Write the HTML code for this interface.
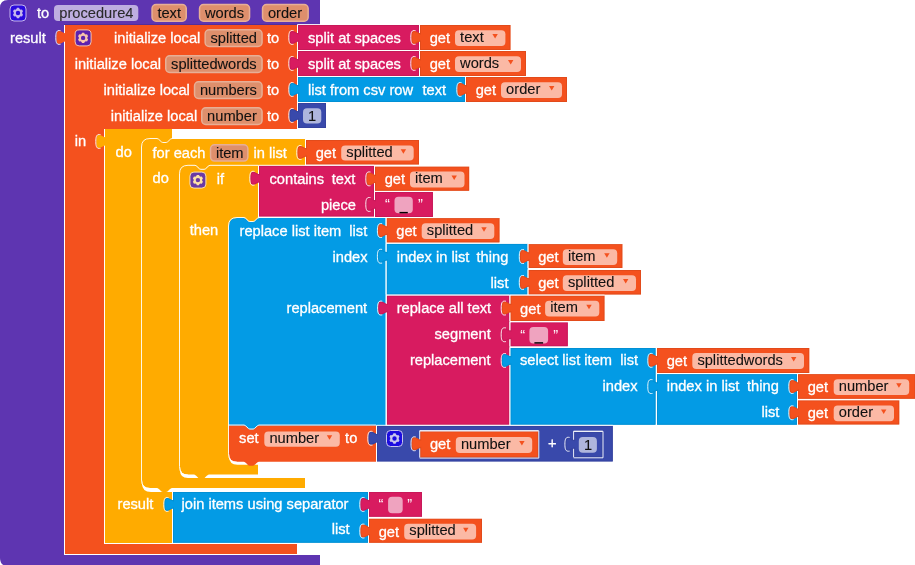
<!DOCTYPE html>
<html><head><meta charset="utf-8"><style>
html,body{margin:0;padding:0;background:#fff;overflow:hidden}
svg{display:block;will-change:transform}
text{font-family:"Liberation Sans",sans-serif;white-space:pre}
</style></head><body>
<svg width="915" height="565" viewBox="0 0 915 565">
<path d="M8,0 L320,0 L320,25 L64,25 L64,555 L320,555 L320,566 L8,566 Q0,566 0,558 L0,8 Q0,0 8,0 Z" fill="#5e35b1"/>
<path d="M64,24.5 L320,24.5" stroke="#000" stroke-opacity="0.12" stroke-width="1"/>
<rect x="10.0" y="5.0" width="16" height="16" rx="4" fill="#2a0ade" stroke="#c4b5ec" stroke-width="1"/>
<path d="M19.54,8.99 L19.10,7.82 L16.90,7.82 L16.46,8.99 L15.29,9.66 L14.06,9.45 L12.96,11.36 L13.75,12.33 L13.75,13.67 L12.96,14.64 L14.06,16.55 L15.29,16.34 L16.46,17.01 L16.90,18.18 L19.10,18.18 L19.54,17.01 L20.71,16.34 L21.94,16.55 L23.04,14.64 L22.25,13.67 L22.25,12.33 L23.04,11.36 L21.94,9.45 L20.71,9.66Z M20.2,13.0 A2.2,2.2 0 1,0 15.8,13.0 A2.2,2.2 0 1,0 20.2,13.0 Z" fill="#c4b5ec" fill-rule="evenodd"/>
<text x="36.90" y="17.90" fill="#fff" font-size="14.67" stroke="#fff" stroke-width="0.3">to</text>
<rect x="54" y="5" width="84.3" height="16" rx="4" fill="#fff" fill-opacity="0.6"/>
<text x="59.30" y="18.00" fill="#2a2a2a" font-size="14.67" stroke="#2a2a2a" stroke-width="0.1">procedure4</text>
<rect x="152.05" y="4.55" width="34.20" height="16.60" rx="4" fill="#de8f6c" stroke="#e7af96" stroke-width="1.5"/>
<text x="157.40" y="18.00" fill="#111" font-size="14.67" stroke="#111" stroke-width="0.1">text</text>
<rect x="199.55" y="4.55" width="50.00" height="16.60" rx="4" fill="#de8f6c" stroke="#e7af96" stroke-width="1.5"/>
<text x="204.90" y="18.00" fill="#111" font-size="14.67" stroke="#111" stroke-width="0.1">words</text>
<rect x="262.55" y="4.55" width="45.60" height="16.60" rx="4" fill="#de8f6c" stroke="#e7af96" stroke-width="1.5"/>
<text x="267.90" y="18.00" fill="#111" font-size="14.67" stroke="#111" stroke-width="0.1">order</text>
<text x="10.00" y="42.90" fill="#fff" font-size="14.67" stroke="#fff" stroke-width="0.3">result</text>
<path d="M65,25 L297,25 L297,129 L104,129 L104,544 L297,544 L297,554 L65,554 L65,41.6 C63,42 61.5,43.9 59,43.9 C56.8,43.9 56.3,41.5 56.3,37.45 C56.3,33.4 56.8,31 59,31 C61.5,31 63,32.9 65,33.3 Z" fill="#f4511e"/>
<path d="M64.5,554 L64.5,42 M60.5,44.3 C59.7,44.4 59.3,44.4 59,44.4 C56.4,44.4 55.8,41.7 55.8,37.45 C55.8,33.2 56.4,30.5 59,30.5 C59.3,30.5 59.7,30.5 60.5,30.6 M64.5,33 L64.5,25" fill="none" stroke="#fff" stroke-opacity="0.9" stroke-width="1"/>
<rect x="75.1" y="29.9" width="16" height="16" rx="4" fill="#5c22ae" stroke="#f9c4aa" stroke-width="1"/>
<path d="M84.64,33.89 L84.20,32.72 L82.00,32.72 L81.56,33.89 L80.39,34.56 L79.16,34.35 L78.06,36.26 L78.85,37.23 L78.85,38.57 L78.06,39.54 L79.16,41.45 L80.39,41.24 L81.56,41.91 L82.00,43.08 L84.20,43.08 L84.64,41.91 L85.81,41.24 L87.04,41.45 L88.14,39.54 L87.35,38.57 L87.35,37.23 L88.14,36.26 L87.04,34.35 L85.81,34.56Z M85.3,37.9 A2.2,2.2 0 1,0 80.89999999999999,37.9 A2.2,2.2 0 1,0 85.3,37.9 Z" fill="#f9c4aa" fill-rule="evenodd"/>
<text x="114.00" y="42.50" fill="#fff" font-size="14.67" stroke="#fff" stroke-width="0.3">initialize local</text>
<rect x="205.15" y="29.85" width="56.90" height="16.60" rx="4" fill="#de8f6c" stroke="#e7af96" stroke-width="1.5"/>
<text x="210.50" y="43.30" fill="#111" font-size="14.67" stroke="#111" stroke-width="0.1">splitted</text>
<text x="267.00" y="42.50" fill="#fff" font-size="14.67" stroke="#fff" stroke-width="0.3">to</text>
<text x="74.70" y="68.50" fill="#fff" font-size="14.67" stroke="#fff" stroke-width="0.3">initialize local</text>
<rect x="165.75" y="55.85" width="96.30" height="16.60" rx="4" fill="#de8f6c" stroke="#e7af96" stroke-width="1.5"/>
<text x="171.10" y="69.30" fill="#111" font-size="14.67" stroke="#111" stroke-width="0.1">splittedwords</text>
<text x="267.00" y="68.50" fill="#fff" font-size="14.67" stroke="#fff" stroke-width="0.3">to</text>
<text x="103.50" y="94.50" fill="#fff" font-size="14.67" stroke="#fff" stroke-width="0.3">initialize local</text>
<rect x="194.55" y="81.85" width="67.50" height="16.60" rx="4" fill="#de8f6c" stroke="#e7af96" stroke-width="1.5"/>
<text x="199.90" y="95.30" fill="#111" font-size="14.67" stroke="#111" stroke-width="0.1">numbers</text>
<text x="267.00" y="94.50" fill="#fff" font-size="14.67" stroke="#fff" stroke-width="0.3">to</text>
<text x="110.80" y="120.50" fill="#fff" font-size="14.67" stroke="#fff" stroke-width="0.3">initialize local</text>
<rect x="201.75" y="107.85" width="60.30" height="16.60" rx="4" fill="#de8f6c" stroke="#e7af96" stroke-width="1.5"/>
<text x="207.10" y="121.30" fill="#111" font-size="14.67" stroke="#111" stroke-width="0.1">number</text>
<text x="267.00" y="120.50" fill="#fff" font-size="14.67" stroke="#fff" stroke-width="0.3">to</text>
<text x="74.70" y="146.30" fill="#fff" font-size="14.67" stroke="#fff" stroke-width="0.3">in</text>
<clipPath id="c1"><path d="M298,25 L419,25 L419,50 L298,50 L298,41.6 C296,42 294.5,43.9 292,43.9 C289.8,43.9 289.3,41.5 289.3,37.45 C289.3,33.4 289.8,31 292,31 C294.5,31 296,32.9 298,33.3 Z"/></clipPath>
<path d="M298,25 L419,25 L419,50 L298,50 L298,41.6 C296,42 294.5,43.9 292,43.9 C289.8,43.9 289.3,41.5 289.3,37.45 C289.3,33.4 289.8,31 292,31 C294.5,31 296,32.9 298,33.3 Z" fill="#d81b60" stroke="#c81959" stroke-width="2" clip-path="url(#c1)"/>
<path d="M297.5,50 L297.5,42 M293.5,44.3 C292.7,44.4 292.3,44.4 292,44.4 C289.4,44.4 288.8,41.7 288.8,37.45 C288.8,33.2 289.4,30.5 292,30.5 C292.3,30.5 292.7,30.5 293.5,30.6 M297.5,33 L297.5,24.5 L419,24.5" fill="none" stroke="#fff" stroke-opacity="0.9" stroke-width="1"/>
<text x="308.00" y="43.00" fill="#fff" font-size="14.67" stroke="#fff" stroke-width="0.3">split at spaces</text>
<clipPath id="c2"><path d="M420,25 L510.5,25 L510.5,50 L420,50 L420,41.6 C418,42 416.5,43.9 414,43.9 C411.8,43.9 411.3,41.5 411.3,37.45 C411.3,33.4 411.8,31 414,31 C416.5,31 418,32.9 420,33.3 Z"/></clipPath>
<path d="M420,25 L510.5,25 L510.5,50 L420,50 L420,41.6 C418,42 416.5,43.9 414,43.9 C411.8,43.9 411.3,41.5 411.3,37.45 C411.3,33.4 411.8,31 414,31 C416.5,31 418,32.9 420,33.3 Z" fill="#f4511e" stroke="#e24b1b" stroke-width="2" clip-path="url(#c2)"/>
<path d="M419.5,50 L419.5,42 M415.5,44.3 C414.7,44.4 414.3,44.4 414,44.4 C411.4,44.4 410.8,41.7 410.8,37.45 C410.8,33.2 411.4,30.5 414,30.5 C414.3,30.5 414.7,30.5 415.5,30.6 M419.5,33 L419.5,24.5 L510.5,24.5" fill="none" stroke="#fff" stroke-opacity="0.9" stroke-width="1"/>
<text x="429.70" y="42.90" fill="#fff" font-size="14.67" stroke="#fff" stroke-width="0.3">get</text>
<rect x="455" y="30.2" width="50.40" height="15.80" rx="4" fill="#fff" fill-opacity="0.6"/>
<text x="460.10" y="41.60" fill="#111" font-size="14.67" stroke="#111" stroke-width="0.1">text</text>
<path d="M492.40,34.10 L497.80,34.10 L495.10,38.60 Z" fill="#f4511e"/>
<clipPath id="c3"><path d="M298,51 L419,51 L419,76 L298,76 L298,67.6 C296,68 294.5,69.9 292,69.9 C289.8,69.9 289.3,67.5 289.3,63.45 C289.3,59.4 289.8,57 292,57 C294.5,57 296,58.9 298,59.3 Z"/></clipPath>
<path d="M298,51 L419,51 L419,76 L298,76 L298,67.6 C296,68 294.5,69.9 292,69.9 C289.8,69.9 289.3,67.5 289.3,63.45 C289.3,59.4 289.8,57 292,57 C294.5,57 296,58.9 298,59.3 Z" fill="#d81b60" stroke="#c81959" stroke-width="2" clip-path="url(#c3)"/>
<path d="M297.5,76 L297.5,68 M293.5,70.3 C292.7,70.4 292.3,70.4 292,70.4 C289.4,70.4 288.8,67.7 288.8,63.45 C288.8,59.2 289.4,56.5 292,56.5 C292.3,56.5 292.7,56.5 293.5,56.6 M297.5,59 L297.5,50.5 L419,50.5" fill="none" stroke="#fff" stroke-opacity="0.9" stroke-width="1"/>
<text x="308.00" y="69.00" fill="#fff" font-size="14.67" stroke="#fff" stroke-width="0.3">split at spaces</text>
<clipPath id="c4"><path d="M420,51 L526,51 L526,76 L420,76 L420,67.6 C418,68 416.5,69.9 414,69.9 C411.8,69.9 411.3,67.5 411.3,63.45 C411.3,59.4 411.8,57 414,57 C416.5,57 418,58.9 420,59.3 Z"/></clipPath>
<path d="M420,51 L526,51 L526,76 L420,76 L420,67.6 C418,68 416.5,69.9 414,69.9 C411.8,69.9 411.3,67.5 411.3,63.45 C411.3,59.4 411.8,57 414,57 C416.5,57 418,58.9 420,59.3 Z" fill="#f4511e" stroke="#e24b1b" stroke-width="2" clip-path="url(#c4)"/>
<path d="M419.5,76 L419.5,68 M415.5,70.3 C414.7,70.4 414.3,70.4 414,70.4 C411.4,70.4 410.8,67.7 410.8,63.45 C410.8,59.2 411.4,56.5 414,56.5 C414.3,56.5 414.7,56.5 415.5,56.6 M419.5,59 L419.5,50.5 L526,50.5" fill="none" stroke="#fff" stroke-opacity="0.9" stroke-width="1"/>
<text x="429.70" y="68.90" fill="#fff" font-size="14.67" stroke="#fff" stroke-width="0.3">get</text>
<rect x="455" y="56.2" width="66.00" height="15.80" rx="4" fill="#fff" fill-opacity="0.6"/>
<text x="460.10" y="67.60" fill="#111" font-size="14.67" stroke="#111" stroke-width="0.1">words</text>
<path d="M508.00,60.10 L513.40,60.10 L510.70,64.60 Z" fill="#f4511e"/>
<clipPath id="c5"><path d="M298,77 L465,77 L465,102 L298,102 L298,93.6 C296,94 294.5,95.9 292,95.9 C289.8,95.9 289.3,93.5 289.3,89.45 C289.3,85.4 289.8,83 292,83 C294.5,83 296,84.9 298,85.3 Z"/></clipPath>
<path d="M298,77 L465,77 L465,102 L298,102 L298,93.6 C296,94 294.5,95.9 292,95.9 C289.8,95.9 289.3,93.5 289.3,89.45 C289.3,85.4 289.8,83 292,83 C294.5,83 296,84.9 298,85.3 Z" fill="#039be5" stroke="#0290d4" stroke-width="2" clip-path="url(#c5)"/>
<path d="M297.5,102 L297.5,94 M293.5,96.3 C292.7,96.4 292.3,96.4 292,96.4 C289.4,96.4 288.8,93.7 288.8,89.45 C288.8,85.2 289.4,82.5 292,82.5 C292.3,82.5 292.7,82.5 293.5,82.6 M297.5,85 L297.5,76.5 L465,76.5" fill="none" stroke="#fff" stroke-opacity="0.9" stroke-width="1"/>
<text x="308.00" y="95.00" fill="#fff" font-size="14.67" stroke="#fff" stroke-width="0.3">list from csv row</text>
<text x="422.50" y="95.00" fill="#fff" font-size="14.67" stroke="#fff" stroke-width="0.3">text</text>
<clipPath id="c6"><path d="M466,77 L567,77 L567,102 L466,102 L466,93.6 C464,94 462.5,95.9 460,95.9 C457.8,95.9 457.3,93.5 457.3,89.45 C457.3,85.4 457.8,83 460,83 C462.5,83 464,84.9 466,85.3 Z"/></clipPath>
<path d="M466,77 L567,77 L567,102 L466,102 L466,93.6 C464,94 462.5,95.9 460,95.9 C457.8,95.9 457.3,93.5 457.3,89.45 C457.3,85.4 457.8,83 460,83 C462.5,83 464,84.9 466,85.3 Z" fill="#f4511e" stroke="#e24b1b" stroke-width="2" clip-path="url(#c6)"/>
<path d="M465.5,102 L465.5,94 M461.5,96.3 C460.7,96.4 460.3,96.4 460,96.4 C457.4,96.4 456.8,93.7 456.8,89.45 C456.8,85.2 457.4,82.5 460,82.5 C460.3,82.5 460.7,82.5 461.5,82.6 M465.5,85 L465.5,76.5 L567,76.5" fill="none" stroke="#fff" stroke-opacity="0.9" stroke-width="1"/>
<text x="475.70" y="94.90" fill="#fff" font-size="14.67" stroke="#fff" stroke-width="0.3">get</text>
<rect x="501" y="82.2" width="61.00" height="15.80" rx="4" fill="#fff" fill-opacity="0.6"/>
<text x="506.10" y="93.60" fill="#111" font-size="14.67" stroke="#111" stroke-width="0.1">order</text>
<path d="M549.00,86.10 L554.40,86.10 L551.70,90.60 Z" fill="#f4511e"/>
<clipPath id="c7"><path d="M298,103 L326,103 L326,128 L298,128 L298,119.6 C296,120 294.5,121.9 292,121.9 C289.8,121.9 289.3,119.5 289.3,115.45 C289.3,111.4 289.8,109 292,109 C294.5,109 296,110.9 298,111.3 Z"/></clipPath>
<path d="M298,103 L326,103 L326,128 L298,128 L298,119.6 C296,120 294.5,121.9 292,121.9 C289.8,121.9 289.3,119.5 289.3,115.45 C289.3,111.4 289.8,109 292,109 C294.5,109 296,110.9 298,111.3 Z" fill="#3949ab" stroke="#35439f" stroke-width="2" clip-path="url(#c7)"/>
<path d="M297.5,128 L297.5,120 M293.5,122.3 C292.7,122.4 292.3,122.4 292,122.4 C289.4,122.4 288.8,119.7 288.8,115.45 C288.8,111.2 289.4,108.5 292,108.5 C292.3,108.5 292.7,108.5 293.5,108.6 M297.5,111 L297.5,102.5 L326,102.5" fill="none" stroke="#fff" stroke-opacity="0.9" stroke-width="1"/>
<rect x="303" y="108.2" width="18.3" height="15.3" rx="4" fill="#fff" fill-opacity="0.6"/>
<text x="308.10" y="121.10" fill="#111" font-size="14.67" stroke="#111" stroke-width="0.1">1</text>
<path d="M105,129 L172,129 L172,139 L172,139 C170,139 168,143 166.2,143 L162.8,143 C161,143 159,139 157,139 L142,139 L142,483 Q142,492 151,492 L172,492 L172,543 L105,543 L105,145.6 C103,146 101.5,147.9 99,147.9 C96.8,147.9 96.3,145.5 96.3,141.45 C96.3,137.4 96.8,135 99,135 C101.5,135 103,136.9 105,137.3 Z" fill="#ffab00"/>
<path d="M104.5,543 L104.5,146 M100.5,148.3 C99.7,148.4 99.3,148.4 99,148.4 C96.4,148.4 95.8,145.7 95.8,141.45 C95.8,137.2 96.4,134.5 99,134.5 C99.3,134.5 99.7,134.5 100.5,134.6 M104.5,137 L104.5,129" fill="none" stroke="#fff" stroke-opacity="0.9" stroke-width="1"/>
<text x="115.50" y="156.80" fill="#fff" font-size="14.67" stroke="#fff" stroke-width="0.3">do</text>
<text x="117.50" y="509.10" fill="#fff" font-size="14.67" stroke="#fff" stroke-width="0.3">result</text>
<rect x="141" y="138" width="10" height="10" fill="#ffab00"/>
<path d="M150,139 L305,139 L305,165.8 L210,165.8 L210,165.8 C208,165.8 206,169.8 204.2,169.8 L200.8,169.8 C199,169.8 197,165.8 195,165.8 L180,165.8 L180,470 Q180,478 188,478 L305,478 L305,488 L172,488 C170,488 168,492 166.2,492 L162.8,492 C161,492 159,488 157,488 L150,488 Q142,488 142,480 L142,147 Q142,139 150,139 Z" fill="#ffab00"/>
<path d="M150,488.5 Q141.5,488.5 141.5,480 L141.5,147 Q141.5,138.5 150,138.5 L157,138.5 C159,138.5 161,142.5 162.8,142.5 L166.2,142.5 C168,142.5 170,138.5 172,138.5 L305,138.5" fill="none" stroke="#fff" stroke-opacity="0.9" stroke-width="1"/>
<text x="152.50" y="157.80" fill="#fff" font-size="14.67" stroke="#fff" stroke-width="0.3">for each</text>
<rect x="210.55" y="144.75" width="37.30" height="16.30" rx="4" fill="#de8f6c" stroke="#e7af96" stroke-width="1.5"/>
<text x="215.90" y="158.20" fill="#111" font-size="14.67" stroke="#111" stroke-width="0.1">item</text>
<text x="253.50" y="157.80" fill="#fff" font-size="14.67" stroke="#fff" stroke-width="0.3">in list</text>
<text x="152.50" y="182.70" fill="#fff" font-size="14.67" stroke="#fff" stroke-width="0.3">do</text>
<clipPath id="c8"><path d="M306,140 L419,140 L419,164.4 L306,164.4 L306,156.6 C304,157 302.5,158.9 300,158.9 C297.8,158.9 297.3,156.5 297.3,152.45 C297.3,148.4 297.8,146 300,146 C302.5,146 304,147.9 306,148.3 Z"/></clipPath>
<path d="M306,140 L419,140 L419,164.4 L306,164.4 L306,156.6 C304,157 302.5,158.9 300,158.9 C297.8,158.9 297.3,156.5 297.3,152.45 C297.3,148.4 297.8,146 300,146 C302.5,146 304,147.9 306,148.3 Z" fill="#f4511e" stroke="#e24b1b" stroke-width="2" clip-path="url(#c8)"/>
<path d="M305.5,164.4 L305.5,157 M301.5,159.3 C300.7,159.4 300.3,159.4 300,159.4 C297.4,159.4 296.8,156.7 296.8,152.45 C296.8,148.2 297.4,145.5 300,145.5 C300.3,145.5 300.7,145.5 301.5,145.6 M305.5,148 L305.5,139.5 L419,139.5" fill="none" stroke="#fff" stroke-opacity="0.9" stroke-width="1"/>
<text x="315.70" y="157.90" fill="#fff" font-size="14.67" stroke="#fff" stroke-width="0.3">get</text>
<rect x="341.2" y="145.4" width="72.50" height="15.20" rx="4" fill="#fff" fill-opacity="0.6"/>
<text x="346.30" y="156.80" fill="#111" font-size="14.67" stroke="#111" stroke-width="0.1">splitted</text>
<path d="M400.70,149.30 L406.10,149.30 L403.40,153.80 Z" fill="#f4511e"/>
<rect x="179" y="165" width="10" height="10" fill="#ffab00"/>
<path d="M188,165.8 L195,165.8 C197,165.8 199,169.8 200.8,169.8 L204.2,169.8 C206,169.8 208,165.8 210,165.8 L258,165.8 L258,218 L259,218 L259,218 C257,218 255,222 253.2,222 L249.8,222 C248,222 246,218 244,218 L229,218 L229,456 Q229,464.7 237.5,464.7 L258,464.7 L258,474.6 L209,474.6 C207,474.6 205,478.6 203.2,478.6 L199.8,478.6 C198,478.6 196,474.6 194,474.6 L188,474.6 Q180,474.6 180,466.6 L180,173.8 Q180,165.8 188,165.8 Z" fill="#ffab00"/>
<path d="M188,475.1 Q179.5,475.1 179.5,466.6 L179.5,173.8 Q179.5,165.3 188,165.3 L195,165.3 C197,165.3 199,169.3 200.8,169.3 L204.2,169.3 C206,169.3 208,165.3 210,165.3 L258,165.3" fill="none" stroke="#fff" stroke-opacity="0.9" stroke-width="1"/>
<rect x="189.9" y="172.1" width="16" height="16" rx="4" fill="#6a3aa6" stroke="#ffe2a6" stroke-width="1"/>
<path d="M199.44,176.09 L199.00,174.92 L196.80,174.92 L196.36,176.09 L195.19,176.76 L193.96,176.55 L192.86,178.46 L193.65,179.43 L193.65,180.77 L192.86,181.74 L193.96,183.65 L195.19,183.44 L196.36,184.11 L196.80,185.28 L199.00,185.28 L199.44,184.11 L200.61,183.44 L201.84,183.65 L202.94,181.74 L202.15,180.77 L202.15,179.43 L202.94,178.46 L201.84,176.55 L200.61,176.76Z M200.1,180.1 A2.2,2.2 0 1,0 195.70000000000002,180.1 A2.2,2.2 0 1,0 200.1,180.1 Z" fill="#ffe2a6" fill-rule="evenodd"/>
<text x="216.80" y="184.00" fill="#fff" font-size="14.67" stroke="#fff" stroke-width="0.3">if</text>
<text x="189.70" y="235.30" fill="#fff" font-size="14.67" stroke="#fff" stroke-width="0.3">then</text>
<clipPath id="c9"><path d="M259,165.8 L374,165.8 L374,216.5 L259,216.5 L259,182.4 C257,182.8 255.5,184.70000000000002 253,184.70000000000002 C250.8,184.70000000000002 250.3,182.3 250.3,178.25 C250.3,174.20000000000002 250.8,171.8 253,171.8 C255.5,171.8 257,173.70000000000002 259,174.10000000000002 Z"/></clipPath>
<path d="M259,165.8 L374,165.8 L374,216.5 L259,216.5 L259,182.4 C257,182.8 255.5,184.70000000000002 253,184.70000000000002 C250.8,184.70000000000002 250.3,182.3 250.3,178.25 C250.3,174.20000000000002 250.8,171.8 253,171.8 C255.5,171.8 257,173.70000000000002 259,174.10000000000002 Z" fill="#d81b60" stroke="#c81959" stroke-width="2" clip-path="url(#c9)"/>
<path d="M258.5,216.5 L258.5,182.8 M254.5,185.10000000000002 C253.7,185.20000000000002 253.3,185.20000000000002 253,185.20000000000002 C250.4,185.20000000000002 249.8,182.5 249.8,178.25 C249.8,174.0 250.4,171.3 253,171.3 C253.3,171.3 253.7,171.3 254.5,171.4 M258.5,173.8 L258.5,165.3 L374,165.3" fill="none" stroke="#fff" stroke-opacity="0.9" stroke-width="1"/>
<text x="269.50" y="184.00" fill="#fff" font-size="14.67" stroke="#fff" stroke-width="0.3">contains</text>
<text x="331.80" y="184.00" fill="#fff" font-size="14.67" stroke="#fff" stroke-width="0.3">text</text>
<text x="320.90" y="209.50" fill="#fff" font-size="14.67" stroke="#fff" stroke-width="0.3">piece</text>
<clipPath id="c10"><path d="M375,166.4 L469.2,166.4 L469.2,190.8 L375,190.8 L375,183.0 C373,183.4 371.5,185.3 369,185.3 C366.8,185.3 366.3,182.9 366.3,178.85 C366.3,174.8 366.8,172.4 369,172.4 C371.5,172.4 373,174.3 375,174.70000000000002 Z"/></clipPath>
<path d="M375,166.4 L469.2,166.4 L469.2,190.8 L375,190.8 L375,183.0 C373,183.4 371.5,185.3 369,185.3 C366.8,185.3 366.3,182.9 366.3,178.85 C366.3,174.8 366.8,172.4 369,172.4 C371.5,172.4 373,174.3 375,174.70000000000002 Z" fill="#f4511e" stroke="#e24b1b" stroke-width="2" clip-path="url(#c10)"/>
<path d="M374.5,190.8 L374.5,183.4 M370.5,185.70000000000002 C369.7,185.8 369.3,185.8 369,185.8 C366.4,185.8 365.8,183.1 365.8,178.85 C365.8,174.6 366.4,171.9 369,171.9 C369.3,171.9 369.7,171.9 370.5,172.0 M374.5,174.4 L374.5,165.9 L469.2,165.9" fill="none" stroke="#fff" stroke-opacity="0.9" stroke-width="1"/>
<text x="384.70" y="184.30" fill="#fff" font-size="14.67" stroke="#fff" stroke-width="0.3">get</text>
<rect x="410" y="171.6" width="54.50" height="15.80" rx="4" fill="#fff" fill-opacity="0.6"/>
<text x="415.10" y="183.00" fill="#111" font-size="14.67" stroke="#111" stroke-width="0.1">item</text>
<path d="M451.50,175.50 L456.90,175.50 L454.20,180.00 Z" fill="#f4511e"/>
<clipPath id="c11"><path d="M375,192 L432.9,192 L432.9,216.9 L375,216.9 L375,208.6 C373,209 371.5,210.9 369,210.9 C366.8,210.9 366.3,208.5 366.3,204.45 C366.3,200.4 366.8,198 369,198 C371.5,198 373,199.9 375,200.3 Z"/></clipPath>
<path d="M375,192 L432.9,192 L432.9,216.9 L375,216.9 L375,208.6 C373,209 371.5,210.9 369,210.9 C366.8,210.9 366.3,208.5 366.3,204.45 C366.3,200.4 366.8,198 369,198 C371.5,198 373,199.9 375,200.3 Z" fill="#d81b60" stroke="#c81959" stroke-width="2" clip-path="url(#c11)"/>
<path d="M374.5,216.9 L374.5,209 M370.5,211.3 C369.7,211.4 369.3,211.4 369,211.4 C366.4,211.4 365.8,208.7 365.8,204.45 C365.8,200.2 366.4,197.5 369,197.5 C369.3,197.5 369.7,197.5 370.5,197.6 M374.5,200 L374.5,191.5 L432.9,191.5" fill="none" stroke="#fff" stroke-opacity="0.9" stroke-width="1"/>
<text x="385.00" y="209.30" fill="#fff" font-size="14.67">“</text>
<rect x="394.5" y="196.8" width="18.30" height="16.40" rx="4" fill="#fff" fill-opacity="0.6"/>
<rect x="399.5" y="211.89999999999998" width="8.30" height="1.4" fill="#000"/>
<text x="417.90" y="209.30" fill="#fff" font-size="14.67">”</text>
<rect x="228" y="217" width="10" height="10" fill="#ffab00"/>
<path d="M237,218 L244,218 C246,218 248,222 249.8,222 L253.2,222 C255,222 257,218 259,218 L385.6,218 L385.6,425.7 L259,425.7 C257,425.7 255,429.7 253.2,429.7 L249.8,429.7 C248,429.7 246,425.7 244,425.7 L229,425.7 L229,226 Q229,218 237,218 Z" fill="#039be5"/>
<path d="M228.5,425 L228.5,226 Q228.5,217.5 237,217.5 L244,217.5 C246,217.5 248,221.5 249.8,221.5 L253.2,221.5 C255,221.5 257,217.5 259,217.5 L385.6,217.5" fill="none" stroke="#fff" stroke-opacity="0.9" stroke-width="1"/>
<text x="239.50" y="236.10" fill="#fff" font-size="14.67" stroke="#fff" stroke-width="0.3">replace list item</text>
<text x="349.30" y="236.10" fill="#fff" font-size="14.67" stroke="#fff" stroke-width="0.3">list</text>
<text x="332.50" y="262.10" fill="#fff" font-size="14.67" stroke="#fff" stroke-width="0.3">index</text>
<text x="286.50" y="313.20" fill="#fff" font-size="14.67" stroke="#fff" stroke-width="0.3">replacement</text>
<clipPath id="c12"><path d="M386.6,218.1 L499.5,218.1 L499.5,242.6 L386.6,242.6 L386.6,234.7 C384.6,235.1 383.1,237.0 380.6,237.0 C378.40000000000003,237.0 377.90000000000003,234.6 377.90000000000003,230.54999999999998 C377.90000000000003,226.5 378.40000000000003,224.1 380.6,224.1 C383.1,224.1 384.6,226.0 386.6,226.4 Z"/></clipPath>
<path d="M386.6,218.1 L499.5,218.1 L499.5,242.6 L386.6,242.6 L386.6,234.7 C384.6,235.1 383.1,237.0 380.6,237.0 C378.40000000000003,237.0 377.90000000000003,234.6 377.90000000000003,230.54999999999998 C377.90000000000003,226.5 378.40000000000003,224.1 380.6,224.1 C383.1,224.1 384.6,226.0 386.6,226.4 Z" fill="#f4511e" stroke="#e24b1b" stroke-width="2" clip-path="url(#c12)"/>
<path d="M386.1,242.6 L386.1,235.1 M382.1,237.4 C381.3,237.5 380.90000000000003,237.5 380.6,237.5 C378.0,237.5 377.40000000000003,234.79999999999998 377.40000000000003,230.54999999999998 C377.40000000000003,226.29999999999998 378.0,223.6 380.6,223.6 C380.90000000000003,223.6 381.3,223.6 382.1,223.7 M386.1,226.1 L386.1,217.6 L499.5,217.6" fill="none" stroke="#fff" stroke-opacity="0.9" stroke-width="1"/>
<text x="396.30" y="236.00" fill="#fff" font-size="14.67" stroke="#fff" stroke-width="0.3">get</text>
<rect x="421.7" y="223.29999999999998" width="72.60" height="15.80" rx="4" fill="#fff" fill-opacity="0.6"/>
<text x="426.80" y="234.70" fill="#111" font-size="14.67" stroke="#111" stroke-width="0.1">splitted</text>
<path d="M481.30,227.20 L486.70,227.20 L484.00,231.70 Z" fill="#f4511e"/>
<clipPath id="c13"><path d="M386.6,243.8 L527.5,243.8 L527.5,294.5 L386.6,294.5 L386.6,260.40000000000003 C384.6,260.8 383.1,262.7 380.6,262.7 C378.40000000000003,262.7 377.90000000000003,260.3 377.90000000000003,256.25 C377.90000000000003,252.20000000000002 378.40000000000003,249.8 380.6,249.8 C383.1,249.8 384.6,251.70000000000002 386.6,252.10000000000002 Z"/></clipPath>
<path d="M386.6,243.8 L527.5,243.8 L527.5,294.5 L386.6,294.5 L386.6,260.40000000000003 C384.6,260.8 383.1,262.7 380.6,262.7 C378.40000000000003,262.7 377.90000000000003,260.3 377.90000000000003,256.25 C377.90000000000003,252.20000000000002 378.40000000000003,249.8 380.6,249.8 C383.1,249.8 384.6,251.70000000000002 386.6,252.10000000000002 Z" fill="#039be5" stroke="#0290d4" stroke-width="2" clip-path="url(#c13)"/>
<path d="M386.1,294.5 L386.1,260.8 M382.1,263.1 C381.3,263.2 380.90000000000003,263.2 380.6,263.2 C378.0,263.2 377.40000000000003,260.5 377.40000000000003,256.25 C377.40000000000003,252.0 378.0,249.3 380.6,249.3 C380.90000000000003,249.3 381.3,249.3 382.1,249.4 M386.1,251.8 L386.1,243.3 L527.5,243.3" fill="none" stroke="#fff" stroke-opacity="0.9" stroke-width="1"/>
<text x="396.80" y="261.60" fill="#fff" font-size="14.67" stroke="#fff" stroke-width="0.3">index in list</text>
<text x="476.50" y="261.60" fill="#fff" font-size="14.67" stroke="#fff" stroke-width="0.3">thing</text>
<text x="490.60" y="287.80" fill="#fff" font-size="14.67" stroke="#fff" stroke-width="0.3">list</text>
<clipPath id="c14"><path d="M528.5,244.1 L622.4,244.1 L622.4,268 L528.5,268 L528.5,260.7 C526.5,261.1 525.0,263.0 522.5,263.0 C520.3,263.0 519.8,260.6 519.8,256.55 C519.8,252.5 520.3,250.1 522.5,250.1 C525.0,250.1 526.5,252.0 528.5,252.4 Z"/></clipPath>
<path d="M528.5,244.1 L622.4,244.1 L622.4,268 L528.5,268 L528.5,260.7 C526.5,261.1 525.0,263.0 522.5,263.0 C520.3,263.0 519.8,260.6 519.8,256.55 C519.8,252.5 520.3,250.1 522.5,250.1 C525.0,250.1 526.5,252.0 528.5,252.4 Z" fill="#f4511e" stroke="#e24b1b" stroke-width="2" clip-path="url(#c14)"/>
<path d="M528.0,268 L528.0,261.1 M524.0,263.4 C523.2,263.5 522.8,263.5 522.5,263.5 C519.9,263.5 519.3,260.8 519.3,256.55 C519.3,252.29999999999998 519.9,249.6 522.5,249.6 C522.8,249.6 523.2,249.6 524.0,249.7 M528.0,252.1 L528.0,243.6 L622.4,243.6" fill="none" stroke="#fff" stroke-opacity="0.9" stroke-width="1"/>
<text x="538.20" y="262.00" fill="#fff" font-size="14.67" stroke="#fff" stroke-width="0.3">get</text>
<rect x="562.8" y="249.29999999999998" width="54.40" height="15.80" rx="4" fill="#fff" fill-opacity="0.6"/>
<text x="567.90" y="260.70" fill="#111" font-size="14.67" stroke="#111" stroke-width="0.1">item</text>
<path d="M604.20,253.20 L609.60,253.20 L606.90,257.70 Z" fill="#f4511e"/>
<clipPath id="c15"><path d="M528.5,270 L641,270 L641,294.5 L528.5,294.5 L528.5,286.6 C526.5,287 525.0,288.9 522.5,288.9 C520.3,288.9 519.8,286.5 519.8,282.45 C519.8,278.4 520.3,276 522.5,276 C525.0,276 526.5,277.9 528.5,278.3 Z"/></clipPath>
<path d="M528.5,270 L641,270 L641,294.5 L528.5,294.5 L528.5,286.6 C526.5,287 525.0,288.9 522.5,288.9 C520.3,288.9 519.8,286.5 519.8,282.45 C519.8,278.4 520.3,276 522.5,276 C525.0,276 526.5,277.9 528.5,278.3 Z" fill="#f4511e" stroke="#e24b1b" stroke-width="2" clip-path="url(#c15)"/>
<path d="M528.0,294.5 L528.0,287 M524.0,289.3 C523.2,289.4 522.8,289.4 522.5,289.4 C519.9,289.4 519.3,286.7 519.3,282.45 C519.3,278.2 519.9,275.5 522.5,275.5 C522.8,275.5 523.2,275.5 524.0,275.6 M528.0,278 L528.0,269.5 L641,269.5" fill="none" stroke="#fff" stroke-opacity="0.9" stroke-width="1"/>
<text x="538.20" y="287.90" fill="#fff" font-size="14.67" stroke="#fff" stroke-width="0.3">get</text>
<rect x="562.8" y="275.2" width="73.20" height="15.80" rx="4" fill="#fff" fill-opacity="0.6"/>
<text x="567.90" y="286.60" fill="#111" font-size="14.67" stroke="#111" stroke-width="0.1">splitted</text>
<path d="M623.00,279.10 L628.40,279.10 L625.70,283.60 Z" fill="#f4511e"/>
<clipPath id="c16"><path d="M386.8,295.6 L509.4,295.6 L509.4,424.8 L386.8,424.8 L386.8,312.20000000000005 C384.8,312.6 383.3,314.5 380.8,314.5 C378.6,314.5 378.1,312.1 378.1,308.05 C378.1,304.0 378.6,301.6 380.8,301.6 C383.3,301.6 384.8,303.5 386.8,303.90000000000003 Z"/></clipPath>
<path d="M386.8,295.6 L509.4,295.6 L509.4,424.8 L386.8,424.8 L386.8,312.20000000000005 C384.8,312.6 383.3,314.5 380.8,314.5 C378.6,314.5 378.1,312.1 378.1,308.05 C378.1,304.0 378.6,301.6 380.8,301.6 C383.3,301.6 384.8,303.5 386.8,303.90000000000003 Z" fill="#d81b60" stroke="#c81959" stroke-width="2" clip-path="url(#c16)"/>
<path d="M386.3,424.8 L386.3,312.6 M382.3,314.90000000000003 C381.5,315.0 381.1,315.0 380.8,315.0 C378.2,315.0 377.6,312.3 377.6,308.05 C377.6,303.8 378.2,301.1 380.8,301.1 C381.1,301.1 381.5,301.1 382.3,301.20000000000005 M386.3,303.6 L386.3,295.1 L509.4,295.1" fill="none" stroke="#fff" stroke-opacity="0.9" stroke-width="1"/>
<text x="396.70" y="312.70" fill="#fff" font-size="14.67" stroke="#fff" stroke-width="0.3">replace all text</text>
<text x="434.50" y="338.50" fill="#fff" font-size="14.67" stroke="#fff" stroke-width="0.3">segment</text>
<text x="409.90" y="364.60" fill="#fff" font-size="14.67" stroke="#fff" stroke-width="0.3">replacement</text>
<clipPath id="c17"><path d="M510.4,295.6 L604.5,295.6 L604.5,321.1 L510.4,321.1 L510.4,312.20000000000005 C508.4,312.6 506.9,314.5 504.4,314.5 C502.2,314.5 501.7,312.1 501.7,308.05 C501.7,304.0 502.2,301.6 504.4,301.6 C506.9,301.6 508.4,303.5 510.4,303.90000000000003 Z"/></clipPath>
<path d="M510.4,295.6 L604.5,295.6 L604.5,321.1 L510.4,321.1 L510.4,312.20000000000005 C508.4,312.6 506.9,314.5 504.4,314.5 C502.2,314.5 501.7,312.1 501.7,308.05 C501.7,304.0 502.2,301.6 504.4,301.6 C506.9,301.6 508.4,303.5 510.4,303.90000000000003 Z" fill="#f4511e" stroke="#e24b1b" stroke-width="2" clip-path="url(#c17)"/>
<path d="M509.9,321.1 L509.9,312.6 M505.9,314.90000000000003 C505.09999999999997,315.0 504.7,315.0 504.4,315.0 C501.79999999999995,315.0 501.2,312.3 501.2,308.05 C501.2,303.8 501.79999999999995,301.1 504.4,301.1 C504.7,301.1 505.09999999999997,301.1 505.9,301.20000000000005 M509.9,303.6 L509.9,295.1 L604.5,295.1" fill="none" stroke="#fff" stroke-opacity="0.9" stroke-width="1"/>
<text x="520.10" y="313.50" fill="#fff" font-size="14.67" stroke="#fff" stroke-width="0.3">get</text>
<rect x="545.1" y="300.8" width="54.20" height="15.80" rx="4" fill="#fff" fill-opacity="0.6"/>
<text x="550.20" y="312.20" fill="#111" font-size="14.67" stroke="#111" stroke-width="0.1">item</text>
<path d="M586.30,304.70 L591.70,304.70 L589.00,309.20 Z" fill="#f4511e"/>
<clipPath id="c18"><path d="M510.4,322.3 L567.8,322.3 L567.8,346.3 L510.4,346.3 L510.4,338.90000000000003 C508.4,339.3 506.9,341.2 504.4,341.2 C502.2,341.2 501.7,338.8 501.7,334.75 C501.7,330.7 502.2,328.3 504.4,328.3 C506.9,328.3 508.4,330.2 510.4,330.6 Z"/></clipPath>
<path d="M510.4,322.3 L567.8,322.3 L567.8,346.3 L510.4,346.3 L510.4,338.90000000000003 C508.4,339.3 506.9,341.2 504.4,341.2 C502.2,341.2 501.7,338.8 501.7,334.75 C501.7,330.7 502.2,328.3 504.4,328.3 C506.9,328.3 508.4,330.2 510.4,330.6 Z" fill="#d81b60" stroke="#c81959" stroke-width="2" clip-path="url(#c18)"/>
<path d="M509.9,346.3 L509.9,339.3 M505.9,341.6 C505.09999999999997,341.7 504.7,341.7 504.4,341.7 C501.79999999999995,341.7 501.2,339.0 501.2,334.75 C501.2,330.5 501.79999999999995,327.8 504.4,327.8 C504.7,327.8 505.09999999999997,327.8 505.9,327.90000000000003 M509.9,330.3 L509.9,321.8 L567.8,321.8" fill="none" stroke="#fff" stroke-opacity="0.9" stroke-width="1"/>
<text x="520.20" y="339.60" fill="#fff" font-size="14.67">“</text>
<rect x="529.4" y="327.1" width="18.70" height="16.40" rx="4" fill="#fff" fill-opacity="0.6"/>
<rect x="534.4" y="342.2" width="8.70" height="1.4" fill="#000"/>
<text x="553.30" y="339.60" fill="#fff" font-size="14.67">”</text>
<clipPath id="c19"><path d="M510.4,348 L655.6,348 L655.6,424.8 L510.4,424.8 L510.4,364.6 C508.4,365 506.9,366.9 504.4,366.9 C502.2,366.9 501.7,364.5 501.7,360.45 C501.7,356.4 502.2,354 504.4,354 C506.9,354 508.4,355.9 510.4,356.3 Z"/></clipPath>
<path d="M510.4,348 L655.6,348 L655.6,424.8 L510.4,424.8 L510.4,364.6 C508.4,365 506.9,366.9 504.4,366.9 C502.2,366.9 501.7,364.5 501.7,360.45 C501.7,356.4 502.2,354 504.4,354 C506.9,354 508.4,355.9 510.4,356.3 Z" fill="#039be5" stroke="#0290d4" stroke-width="2" clip-path="url(#c19)"/>
<path d="M509.9,424.8 L509.9,365 M505.9,367.3 C505.09999999999997,367.4 504.7,367.4 504.4,367.4 C501.79999999999995,367.4 501.2,364.7 501.2,360.45 C501.2,356.2 501.79999999999995,353.5 504.4,353.5 C504.7,353.5 505.09999999999997,353.5 505.9,353.6 M509.9,356 L509.9,347.5 L655.6,347.5" fill="none" stroke="#fff" stroke-opacity="0.9" stroke-width="1"/>
<text x="520.00" y="364.60" fill="#fff" font-size="14.67" stroke="#fff" stroke-width="0.3">select list item</text>
<text x="620.20" y="364.60" fill="#fff" font-size="14.67" stroke="#fff" stroke-width="0.3">list</text>
<text x="602.50" y="391.00" fill="#fff" font-size="14.67" stroke="#fff" stroke-width="0.3">index</text>
<clipPath id="c20"><path d="M657,347.9 L809.3,347.9 L809.3,372.9 L657,372.9 L657,364.5 C655,364.9 653.5,366.79999999999995 651,366.79999999999995 C648.8,366.79999999999995 648.3,364.4 648.3,360.34999999999997 C648.3,356.29999999999995 648.8,353.9 651,353.9 C653.5,353.9 655,355.79999999999995 657,356.2 Z"/></clipPath>
<path d="M657,347.9 L809.3,347.9 L809.3,372.9 L657,372.9 L657,364.5 C655,364.9 653.5,366.79999999999995 651,366.79999999999995 C648.8,366.79999999999995 648.3,364.4 648.3,360.34999999999997 C648.3,356.29999999999995 648.8,353.9 651,353.9 C653.5,353.9 655,355.79999999999995 657,356.2 Z" fill="#f4511e" stroke="#e24b1b" stroke-width="2" clip-path="url(#c20)"/>
<path d="M656.5,372.9 L656.5,364.9 M652.5,367.2 C651.7,367.29999999999995 651.3,367.29999999999995 651,367.29999999999995 C648.4,367.29999999999995 647.8,364.59999999999997 647.8,360.34999999999997 C647.8,356.09999999999997 648.4,353.4 651,353.4 C651.3,353.4 651.7,353.4 652.5,353.5 M656.5,355.9 L656.5,347.4 L809.3,347.4" fill="none" stroke="#fff" stroke-opacity="0.9" stroke-width="1"/>
<text x="666.70" y="365.80" fill="#fff" font-size="14.67" stroke="#fff" stroke-width="0.3">get</text>
<rect x="692.3" y="353.09999999999997" width="111.70" height="15.80" rx="4" fill="#fff" fill-opacity="0.6"/>
<text x="697.40" y="364.50" fill="#111" font-size="14.67" stroke="#111" stroke-width="0.1">splittedwords</text>
<path d="M791.00,357.00 L796.40,357.00 L793.70,361.50 Z" fill="#f4511e"/>
<clipPath id="c21"><path d="M657,374.1 L797,374.1 L797,424.8 L657,424.8 L657,390.70000000000005 C655,391.1 653.5,393.0 651,393.0 C648.8,393.0 648.3,390.6 648.3,386.55 C648.3,382.5 648.8,380.1 651,380.1 C653.5,380.1 655,382.0 657,382.40000000000003 Z"/></clipPath>
<path d="M657,374.1 L797,374.1 L797,424.8 L657,424.8 L657,390.70000000000005 C655,391.1 653.5,393.0 651,393.0 C648.8,393.0 648.3,390.6 648.3,386.55 C648.3,382.5 648.8,380.1 651,380.1 C653.5,380.1 655,382.0 657,382.40000000000003 Z" fill="#039be5" stroke="#0290d4" stroke-width="2" clip-path="url(#c21)"/>
<path d="M656.5,424.8 L656.5,391.1 M652.5,393.40000000000003 C651.7,393.5 651.3,393.5 651,393.5 C648.4,393.5 647.8,390.8 647.8,386.55 C647.8,382.3 648.4,379.6 651,379.6 C651.3,379.6 651.7,379.6 652.5,379.70000000000005 M656.5,382.1 L656.5,373.6 L797,373.6" fill="none" stroke="#fff" stroke-opacity="0.9" stroke-width="1"/>
<text x="666.80" y="391.00" fill="#fff" font-size="14.67" stroke="#fff" stroke-width="0.3">index in list</text>
<text x="747.00" y="391.00" fill="#fff" font-size="14.67" stroke="#fff" stroke-width="0.3">thing</text>
<text x="761.50" y="417.00" fill="#fff" font-size="14.67" stroke="#fff" stroke-width="0.3">list</text>
<clipPath id="c22"><path d="M798,374.1 L915.5,374.1 L915.5,398.7 L798,398.7 L798,390.70000000000005 C796,391.1 794.5,393.0 792,393.0 C789.8,393.0 789.3,390.6 789.3,386.55 C789.3,382.5 789.8,380.1 792,380.1 C794.5,380.1 796,382.0 798,382.40000000000003 Z"/></clipPath>
<path d="M798,374.1 L915.5,374.1 L915.5,398.7 L798,398.7 L798,390.70000000000005 C796,391.1 794.5,393.0 792,393.0 C789.8,393.0 789.3,390.6 789.3,386.55 C789.3,382.5 789.8,380.1 792,380.1 C794.5,380.1 796,382.0 798,382.40000000000003 Z" fill="#f4511e" stroke="#e24b1b" stroke-width="2" clip-path="url(#c22)"/>
<path d="M797.5,398.7 L797.5,391.1 M793.5,393.40000000000003 C792.7,393.5 792.3,393.5 792,393.5 C789.4,393.5 788.8,390.8 788.8,386.55 C788.8,382.3 789.4,379.6 792,379.6 C792.3,379.6 792.7,379.6 793.5,379.70000000000005 M797.5,382.1 L797.5,373.6 L915.5,373.6" fill="none" stroke="#fff" stroke-opacity="0.9" stroke-width="1"/>
<text x="807.70" y="392.00" fill="#fff" font-size="14.67" stroke="#fff" stroke-width="0.3">get</text>
<rect x="833.7" y="379.3" width="75.50" height="15.80" rx="4" fill="#fff" fill-opacity="0.6"/>
<text x="838.80" y="390.70" fill="#111" font-size="14.67" stroke="#111" stroke-width="0.1">number</text>
<path d="M896.20,383.20 L901.60,383.20 L898.90,387.70 Z" fill="#f4511e"/>
<clipPath id="c23"><path d="M798,400.3 L899.3,400.3 L899.3,424.4 L798,424.4 L798,416.90000000000003 C796,417.3 794.5,419.2 792,419.2 C789.8,419.2 789.3,416.8 789.3,412.75 C789.3,408.7 789.8,406.3 792,406.3 C794.5,406.3 796,408.2 798,408.6 Z"/></clipPath>
<path d="M798,400.3 L899.3,400.3 L899.3,424.4 L798,424.4 L798,416.90000000000003 C796,417.3 794.5,419.2 792,419.2 C789.8,419.2 789.3,416.8 789.3,412.75 C789.3,408.7 789.8,406.3 792,406.3 C794.5,406.3 796,408.2 798,408.6 Z" fill="#f4511e" stroke="#e24b1b" stroke-width="2" clip-path="url(#c23)"/>
<path d="M797.5,424.4 L797.5,417.3 M793.5,419.6 C792.7,419.7 792.3,419.7 792,419.7 C789.4,419.7 788.8,417.0 788.8,412.75 C788.8,408.5 789.4,405.8 792,405.8 C792.3,405.8 792.7,405.8 793.5,405.90000000000003 M797.5,408.3 L797.5,399.8 L899.3,399.8" fill="none" stroke="#fff" stroke-opacity="0.9" stroke-width="1"/>
<text x="807.70" y="418.20" fill="#fff" font-size="14.67" stroke="#fff" stroke-width="0.3">get</text>
<rect x="833.7" y="405.5" width="60.30" height="15.80" rx="4" fill="#fff" fill-opacity="0.6"/>
<text x="838.80" y="416.90" fill="#111" font-size="14.67" stroke="#111" stroke-width="0.1">order</text>
<path d="M881.00,409.40 L886.40,409.40 L883.70,413.90 Z" fill="#f4511e"/>
<path d="M229,425.5 L244,425.5 C246,425.5 248,429.5 249.8,429.5 L253.2,429.5 C255,429.5 257,425.5 259,425.5 L376,425.5 L376,461.8 L258.8,461.8 C256.8,461.8 254.8,465.8 253.0,465.8 L249.60000000000002,465.8 C247.8,465.8 245.8,461.8 243.8,461.8 L237,461.8 Q229,461.8 229,453.8 Z" fill="#f4511e"/>
<path d="M237,462.3 Q228.5,462.3 228.5,453.8 L228.5,425 L244,425 C246,425 248,429 249.8,429 L253.2,429 C255,429 257,425 259,425 L376,425" fill="none" stroke="#fff" stroke-opacity="0.9" stroke-width="1"/>
<text x="239.10" y="442.80" fill="#fff" font-size="14.67" stroke="#fff" stroke-width="0.3">set</text>
<rect x="264.3" y="431.4" width="75.50" height="15.30" rx="4" fill="#fff" fill-opacity="0.6"/>
<text x="269.40" y="442.80" fill="#111" font-size="14.67" stroke="#111" stroke-width="0.1">number</text>
<path d="M326.80,435.30 L332.20,435.30 L329.50,439.80 Z" fill="#f4511e"/>
<text x="345.10" y="442.80" fill="#fff" font-size="14.67" stroke="#fff" stroke-width="0.3">to</text>
<clipPath id="c24"><path d="M377,425.8 L612.8,425.8 L612.8,461.4 L377,461.4 L377,442.40000000000003 C375,442.8 373.5,444.7 371,444.7 C368.8,444.7 368.3,442.3 368.3,438.25 C368.3,434.2 368.8,431.8 371,431.8 C373.5,431.8 375,433.7 377,434.1 Z"/></clipPath>
<path d="M377,425.8 L612.8,425.8 L612.8,461.4 L377,461.4 L377,442.40000000000003 C375,442.8 373.5,444.7 371,444.7 C368.8,444.7 368.3,442.3 368.3,438.25 C368.3,434.2 368.8,431.8 371,431.8 C373.5,431.8 375,433.7 377,434.1 Z" fill="#3949ab" stroke="#35439f" stroke-width="2" clip-path="url(#c24)"/>
<path d="M376.5,461.4 L376.5,442.8 M372.5,445.1 C371.7,445.2 371.3,445.2 371,445.2 C368.4,445.2 367.8,442.5 367.8,438.25 C367.8,434.0 368.4,431.3 371,431.3 C371.3,431.3 371.7,431.3 372.5,431.40000000000003 M376.5,433.8 L376.5,425.3 L612.8,425.3" fill="none" stroke="#fff" stroke-opacity="0.9" stroke-width="1"/>
<rect x="386.5" y="430.5" width="16" height="16" rx="4" fill="#1c0ce0" stroke="#c9c6ec" stroke-width="1"/>
<path d="M396.04,434.49 L395.60,433.32 L393.40,433.32 L392.96,434.49 L391.79,435.16 L390.56,434.95 L389.46,436.86 L390.25,437.83 L390.25,439.17 L389.46,440.14 L390.56,442.05 L391.79,441.84 L392.96,442.51 L393.40,443.68 L395.60,443.68 L396.04,442.51 L397.21,441.84 L398.44,442.05 L399.54,440.14 L398.75,439.17 L398.75,437.83 L399.54,436.86 L398.44,434.95 L397.21,435.16Z M396.7,438.5 A2.2,2.2 0 1,0 392.3,438.5 A2.2,2.2 0 1,0 396.7,438.5 Z" fill="#c9c6ec" fill-rule="evenodd"/>
<clipPath id="c25"><path d="M420.2,431.3 L538.3,431.3 L538.3,457.6 L420.2,457.6 L420.2,447.90000000000003 C418.2,448.3 416.7,450.2 414.2,450.2 C412.0,450.2 411.5,447.8 411.5,443.75 C411.5,439.7 412.0,437.3 414.2,437.3 C416.7,437.3 418.2,439.2 420.2,439.6 Z"/></clipPath>
<path d="M420.2,431.3 L538.3,431.3 L538.3,457.6 L420.2,457.6 L420.2,447.90000000000003 C418.2,448.3 416.7,450.2 414.2,450.2 C412.0,450.2 411.5,447.8 411.5,443.75 C411.5,439.7 412.0,437.3 414.2,437.3 C416.7,437.3 418.2,439.2 420.2,439.6 Z" fill="#f4511e" stroke="#e24b1b" stroke-width="2" clip-path="url(#c25)"/>
<path d="M419.7,457.6 L419.7,448.3 M415.7,450.6 C414.9,450.7 414.5,450.7 414.2,450.7 C411.59999999999997,450.7 411.0,448.0 411.0,443.75 C411.0,439.5 411.59999999999997,436.8 414.2,436.8 C414.5,436.8 414.9,436.8 415.7,436.90000000000003 M419.7,439.3 L419.7,430.8 L538.3,430.8" fill="none" stroke="#fff" stroke-opacity="0.9" stroke-width="1"/>
<text x="429.90" y="449.20" fill="#fff" font-size="14.67" stroke="#fff" stroke-width="0.3">get</text>
<rect x="455.8" y="437.1" width="76.40" height="15.90" rx="4" fill="#fff" fill-opacity="0.6"/>
<text x="460.90" y="448.50" fill="#111" font-size="14.67" stroke="#111" stroke-width="0.1">number</text>
<path d="M519.20,441.00 L524.60,441.00 L521.90,445.50 Z" fill="#f4511e"/>
<path d="M419.7,430.8 L538.8,430.8 L538.8,458.1 L419.7,458.1" fill="none" stroke="#fff" stroke-opacity="0.9" stroke-width="1"/>
<text x="548.00" y="447.80" fill="#fff" font-size="14.67" stroke="#fff" stroke-width="0.3">+</text>
<clipPath id="c26"><path d="M574.1,431.8 L602.5,431.8 L602.5,457.3 L574.1,457.3 L574.1,448.40000000000003 C572.1,448.8 570.6,450.7 568.1,450.7 C565.9,450.7 565.4,448.3 565.4,444.25 C565.4,440.2 565.9,437.8 568.1,437.8 C570.6,437.8 572.1,439.7 574.1,440.1 Z"/></clipPath>
<path d="M574.1,431.8 L602.5,431.8 L602.5,457.3 L574.1,457.3 L574.1,448.40000000000003 C572.1,448.8 570.6,450.7 568.1,450.7 C565.9,450.7 565.4,448.3 565.4,444.25 C565.4,440.2 565.9,437.8 568.1,437.8 C570.6,437.8 572.1,439.7 574.1,440.1 Z" fill="#3949ab" stroke="#35439f" stroke-width="2" clip-path="url(#c26)"/>
<path d="M573.6,457.3 L573.6,448.8 M569.6,451.1 C568.8000000000001,451.2 568.4,451.2 568.1,451.2 C565.5,451.2 564.9,448.5 564.9,444.25 C564.9,440.0 565.5,437.3 568.1,437.3 C568.4,437.3 568.8000000000001,437.3 569.6,437.40000000000003 M573.6,439.8 L573.6,431.3 L602.5,431.3" fill="none" stroke="#fff" stroke-opacity="0.9" stroke-width="1"/>
<path d="M573.6,431.3 L603,431.3 L603,457.8 L573.6,457.8" fill="none" stroke="#fff" stroke-opacity="0.9" stroke-width="1"/>
<rect x="578.8" y="437" width="18.1" height="15.7" rx="4" fill="#fff" fill-opacity="0.6"/>
<text x="584.00" y="449.70" fill="#111" font-size="14.67" stroke="#111" stroke-width="0.1">1</text>
<clipPath id="c27"><path d="M173,492 L368,492 L368,542.7 L173,542.7 L173,508.6 C171,509 169.5,510.9 167,510.9 C164.8,510.9 164.3,508.5 164.3,504.45 C164.3,500.4 164.8,498 167,498 C169.5,498 171,499.9 173,500.3 Z"/></clipPath>
<path d="M173,492 L368,492 L368,542.7 L173,542.7 L173,508.6 C171,509 169.5,510.9 167,510.9 C164.8,510.9 164.3,508.5 164.3,504.45 C164.3,500.4 164.8,498 167,498 C169.5,498 171,499.9 173,500.3 Z" fill="#039be5" stroke="#0290d4" stroke-width="2" clip-path="url(#c27)"/>
<path d="M172.5,542.7 L172.5,509 M168.5,511.3 C167.7,511.4 167.3,511.4 167,511.4 C164.4,511.4 163.8,508.7 163.8,504.45 C163.8,500.2 164.4,497.5 167,497.5 C167.3,497.5 167.7,497.5 168.5,497.6 M172.5,500 L172.5,491.5 L368,491.5" fill="none" stroke="#fff" stroke-opacity="0.9" stroke-width="1"/>
<text x="181.50" y="508.90" fill="#fff" font-size="14.67" stroke="#fff" stroke-width="0.3">join items using separator</text>
<text x="331.70" y="533.80" fill="#fff" font-size="14.67" stroke="#fff" stroke-width="0.3">list</text>
<clipPath id="c28"><path d="M369,492 L422,492 L422,516.7 L369,516.7 L369,508.6 C367,509 365.5,510.9 363,510.9 C360.8,510.9 360.3,508.5 360.3,504.45 C360.3,500.4 360.8,498 363,498 C365.5,498 367,499.9 369,500.3 Z"/></clipPath>
<path d="M369,492 L422,492 L422,516.7 L369,516.7 L369,508.6 C367,509 365.5,510.9 363,510.9 C360.8,510.9 360.3,508.5 360.3,504.45 C360.3,500.4 360.8,498 363,498 C365.5,498 367,499.9 369,500.3 Z" fill="#d81b60" stroke="#c81959" stroke-width="2" clip-path="url(#c28)"/>
<path d="M368.5,516.7 L368.5,509 M364.5,511.3 C363.7,511.4 363.3,511.4 363,511.4 C360.4,511.4 359.8,508.7 359.8,504.45 C359.8,500.2 360.4,497.5 363,497.5 C363.3,497.5 363.7,497.5 364.5,497.6 M368.5,500 L368.5,491.5 L422,491.5" fill="none" stroke="#fff" stroke-opacity="0.9" stroke-width="1"/>
<text x="378.40" y="509.30" fill="#fff" font-size="14.67">“</text>
<rect x="388.1" y="496.8" width="14.60" height="16.40" rx="4" fill="#fff" fill-opacity="0.6"/>
<text x="407.30" y="509.30" fill="#fff" font-size="14.67">”</text>
<clipPath id="c29"><path d="M369,518.6 L482,518.6 L482,542.7 L369,542.7 L369,535.2 C367,535.6 365.5,537.5 363,537.5 C360.8,537.5 360.3,535.1 360.3,531.0500000000001 C360.3,527.0 360.8,524.6 363,524.6 C365.5,524.6 367,526.5 369,526.9 Z"/></clipPath>
<path d="M369,518.6 L482,518.6 L482,542.7 L369,542.7 L369,535.2 C367,535.6 365.5,537.5 363,537.5 C360.8,537.5 360.3,535.1 360.3,531.0500000000001 C360.3,527.0 360.8,524.6 363,524.6 C365.5,524.6 367,526.5 369,526.9 Z" fill="#f4511e" stroke="#e24b1b" stroke-width="2" clip-path="url(#c29)"/>
<path d="M368.5,542.7 L368.5,535.6 M364.5,537.9 C363.7,538.0 363.3,538.0 363,538.0 C360.4,538.0 359.8,535.3000000000001 359.8,531.0500000000001 C359.8,526.8000000000001 360.4,524.1 363,524.1 C363.3,524.1 363.7,524.1 364.5,524.2 M368.5,526.6 L368.5,518.1 L482,518.1" fill="none" stroke="#fff" stroke-opacity="0.9" stroke-width="1"/>
<text x="378.70" y="536.50" fill="#fff" font-size="14.67" stroke="#fff" stroke-width="0.3">get</text>
<rect x="404.2" y="523.8000000000001" width="71.90" height="15.80" rx="4" fill="#fff" fill-opacity="0.6"/>
<text x="409.30" y="535.20" fill="#111" font-size="14.67" stroke="#111" stroke-width="0.1">splitted</text>
<path d="M463.10,527.70 L468.50,527.70 L465.80,532.20 Z" fill="#f4511e"/>
</svg>
</body></html>
